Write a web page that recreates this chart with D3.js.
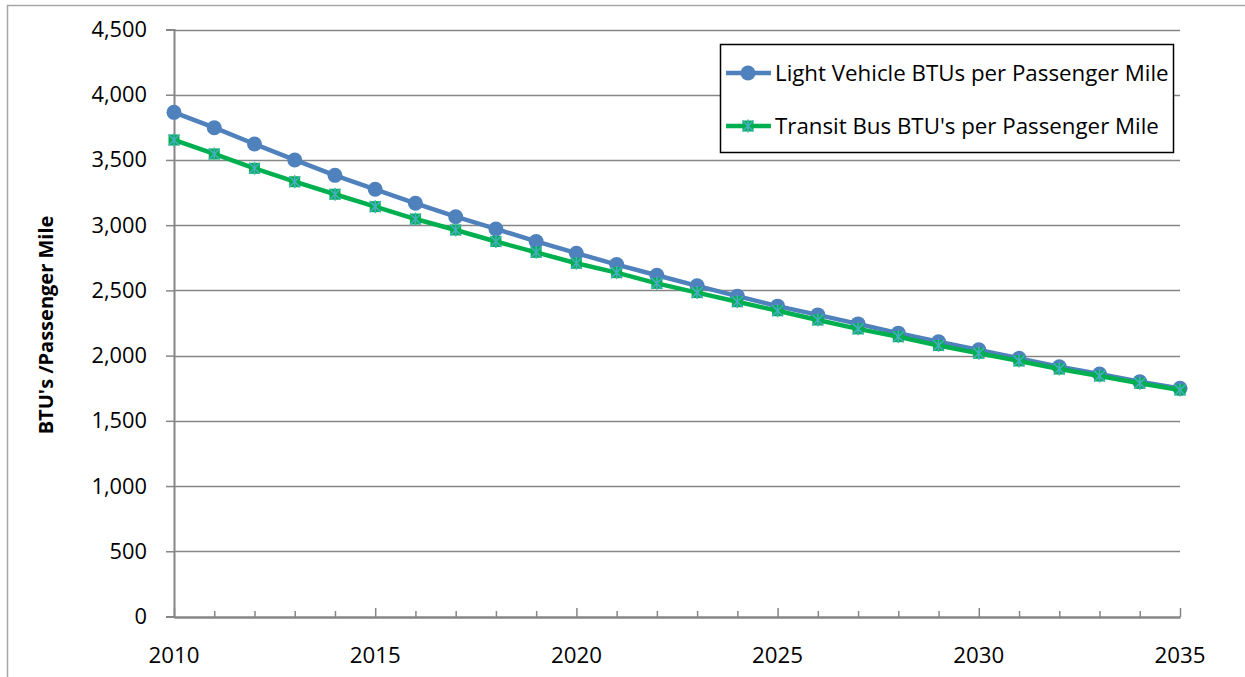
<!DOCTYPE html>
<html><head><meta charset="utf-8">
<script src="https://cdn.jsdelivr.net/npm/d3@7"></script>
<style>body{margin:0;background:#fff;} svg{display:block;font-family:"Open Sans",Lato,sans-serif;}</style>
</head><body>
<svg id="chart" width="1245" height="677"></svg>
<script>
const years = [2010,2011,2012,2013,2014,2015,2016,2017,2018,2019,2020,2021,2022,2023,2024,2025,2026,2027,2028,2029,2030,2031,2032,2033,2034,2035];
const lightVehicle = [3865,3747,3622,3500,3382,3275,3168,3065,2971,2875,2785,2698,2616,2535,2456,2379,2312,2243,2172,2106,2044,1979,1915,1859,1800,1749];
const transitBus = [3653,3546,3436,3333,3237,3142,3047,2963,2875,2792,2708,2636,2554,2483,2413,2344,2273,2205,2145,2078,2018,1959,1897,1844,1788,1737];
const yTicks = [0,500,1000,1500,2000,2500,3000,3500,4000,4500];
const xLabels = [2010,2015,2020,2025,2030,2035];
const seriesNames = ["Light Vehicle BTUs per Passenger Mile","Transit Bus BTU's per Passenger Mile"];
const yTitle = "BTU's /Passenger Mile";

const svg = d3.select("#chart");
const x = d3.scaleLinear().domain([2010,2035]).range([174,1180]);
const y = d3.scaleLinear().domain([0,4500]).range([616.5,29.5]);
const grid = "#868686";
const FONT = "'Open Sans', Lato, sans-serif";

// outer frame (top and left only visible)
svg.append("line").attr("x1",7).attr("x2",1245).attr("y1",5.5).attr("y2",5.5).attr("stroke","#a6a6a6").attr("stroke-width",1.5);
svg.append("line").attr("x1",7.5).attr("x2",7.5).attr("y1",5).attr("y2",677).attr("stroke","#a6a6a6").attr("stroke-width",1.5);

// gridlines
svg.append("g").selectAll("line").data(yTicks.slice(1)).join("line")
  .attr("x1",174).attr("x2",1180)
  .attr("y1",d=>Math.round(y(d))+0.5).attr("y2",d=>Math.round(y(d))+0.5)
  .attr("stroke",grid).attr("stroke-width",1.5);

// y axis
const yAxis = d3.axisLeft(y).tickValues(yTicks).tickSize(8).tickPadding(19).tickFormat(d3.format(","));
const gy = svg.append("g").attr("transform","translate(174,0)").call(yAxis);
gy.select(".domain").attr("stroke",grid).attr("stroke-width",2);
gy.selectAll(".tick line").attr("stroke",grid).attr("stroke-width",1.5);
gy.selectAll(".tick text").attr("font-size",21.8).attr("fill","#000").attr("font-family",FONT);

// x axis
const xAxis = d3.axisBottom(x).tickValues(years).tickSize(0).tickFormat("");
const gx = svg.append("g").attr("transform","translate(0,617)").call(xAxis);
gx.select(".domain").attr("stroke",grid).attr("stroke-width",2.5);
gx.selectAll(".tick").append("line")
  .attr("y1",0).attr("y2",d=>d%5===0?-9:-6)
  .attr("stroke",grid).attr("stroke-width",1.5);
svg.append("g").selectAll("text").data(xLabels).join("text")
  .attr("x",d=>x(d)).attr("y",662.5).attr("text-anchor","middle")
  .attr("font-size",22.3).attr("fill","#000").text(d=>d);

// y title
svg.append("text").attr("transform","translate(53,325) rotate(-90)")
  .attr("text-anchor","middle").attr("font-size",20).attr("font-weight","bold")
  .attr("fill","#000").text(yTitle);

// lines
const line = d3.line().x((d,i)=>x(years[i])).y(d=>y(d));
svg.append("path").datum(lightVehicle).attr("d",line).attr("fill","none")
  .attr("stroke","#4f81bd").attr("stroke-width",4.5).attr("stroke-linejoin","round");
svg.append("g").selectAll("circle").data(lightVehicle).join("circle")
  .attr("cx",(d,i)=>x(years[i])).attr("cy",d=>y(d)).attr("r",7.5).attr("fill","#4f81bd");

svg.append("path").datum(transitBus).attr("d",line).attr("fill","none")
  .attr("stroke","#00b050").attr("stroke-width",4.5).attr("stroke-linejoin","round");

function busMarker(g, cx, cy){
  const s=5.5;
  g.append("rect").attr("x",cx-s).attr("y",cy-s).attr("width",2*s).attr("height",2*s).attr("fill","#00b050");
  const st="#4bacc6";
  g.append("line").attr("x1",cx-s).attr("y1",cy-s).attr("x2",cx+s).attr("y2",cy+s).attr("stroke",st).attr("stroke-width",1.5);
  g.append("line").attr("x1",cx-s).attr("y1",cy+s).attr("x2",cx+s).attr("y2",cy-s).attr("stroke",st).attr("stroke-width",1.5);
  g.append("line").attr("x1",cx).attr("y1",cy-s-1).attr("x2",cx).attr("y2",cy+s+1).attr("stroke",st).attr("stroke-width",1.5);
}
const gm = svg.append("g");
transitBus.forEach((d,i)=>busMarker(gm, x(years[i]), y(d)));

// legend
const lg = svg.append("g");
lg.append("rect").attr("x",720.5).attr("y",44.5).attr("width",453).attr("height",108)
  .attr("fill","#fff").attr("stroke","#000").attr("stroke-width",1.5);
const rows=[73,126];
lg.append("line").attr("x1",726).attr("x2",771).attr("y1",rows[0]).attr("y2",rows[0]).attr("stroke","#4f81bd").attr("stroke-width",4.5);
lg.append("circle").attr("cx",748).attr("cy",rows[0]).attr("r",7.5).attr("fill","#4f81bd");
lg.append("line").attr("x1",726).attr("x2",771).attr("y1",rows[1]).attr("y2",rows[1]).attr("stroke","#00b050").attr("stroke-width",4.5);
busMarker(lg,748,rows[1]);
lg.selectAll("text.leg").data(seriesNames).join("text").attr("class","leg")
  .attr("x",775).attr("y",(d,i)=>rows[i]).attr("dy","0.35em")
  .attr("font-size",22.3).attr("fill","#000").text(d=>d);
</script>
</body></html>
